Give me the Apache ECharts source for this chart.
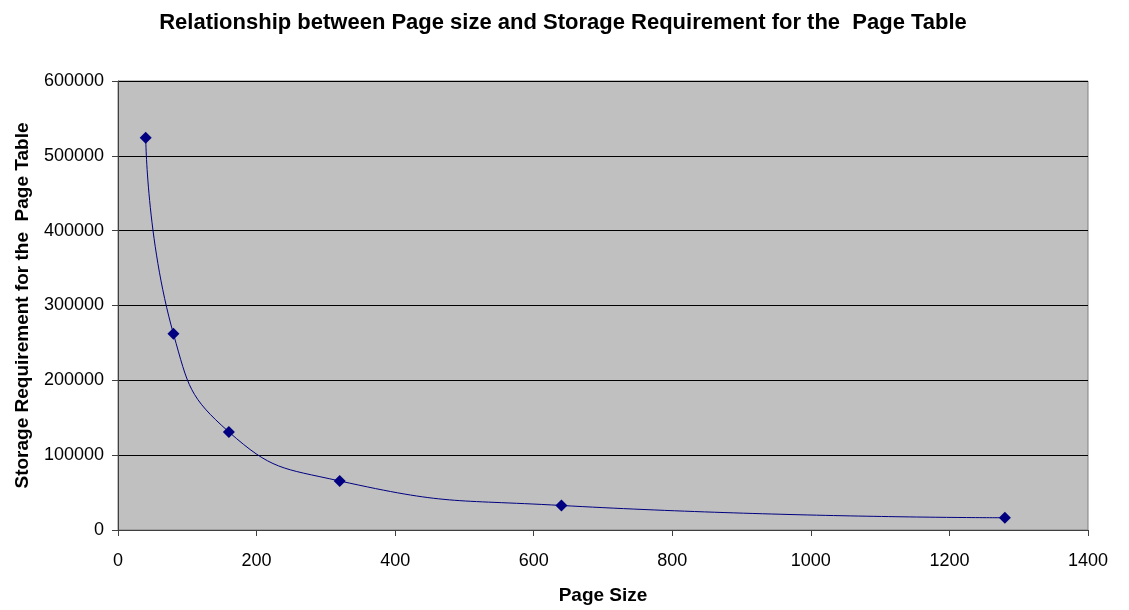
<!DOCTYPE html>
<html>
<head>
<meta charset="utf-8">
<script src="https://cdn.jsdelivr.net/npm/echarts@6/dist/echarts.min.js"></script>
<style>
  html, body { margin: 0; padding: 0; background: #fff; }
  #chart { width: 1129px; height: 610px; }
</style>
</head>
<body>
<div id="chart"></div>
<script>
// page sizes and the storage needed for the page table
var pageSizes = [40, 80, 160, 320, 640, 1280];
var storage = [524288, 262144, 131072, 65536, 32768, 16384];

var myChart = echarts.init(document.getElementById("chart"));
var fontName = "Liberation Sans, Arial";
// plain numbers, no thousands separators
var plain = function (v) { return String(v); };

var option = {
  animation: false,
  title: {
    text: "Relationship between Page size and Storage Requirement for the  Page Table",
    left: 558,
    textAlign: "center",
    top: 7,
    textStyle: { fontFamily: fontName, fontSize: 22, fontWeight: "bold", color: "#000" }
  },
  grid: {
    left: 118,
    right: 41,
    top: 81,
    bottom: 78,
    show: true,
    backgroundColor: "#c0c0c0",
    borderColor: "#808080",
    borderWidth: 1
  },
  xAxis: {
    type: "value",
    min: 0,
    max: 1400,
    interval: 200,
    name: "Page Size",
    nameLocation: "middle",
    nameGap: 56,
    nameTextStyle: { fontFamily: fontName, fontSize: 19, fontWeight: "bold", color: "#000" },
    axisLine: { show: true, lineStyle: { color: "#404040" } },
    axisTick: { show: true, length: 6, lineStyle: { color: "#404040" } },
    axisLabel: { margin: 22, fontFamily: fontName, fontSize: 18, color: "#000", formatter: plain },
    splitLine: { show: false }
  },
  yAxis: {
    type: "value",
    min: 0,
    max: 600000,
    interval: 100000,
    name: "Storage Requirement for the  Page Table",
    nameLocation: "middle",
    nameGap: 86,
    nameTextStyle: { fontFamily: fontName, fontSize: 19, fontWeight: "bold", color: "#000" },
    axisLine: { show: true, lineStyle: { color: "#404040" } },
    axisTick: { show: true, length: 6, lineStyle: { color: "#404040" } },
    axisLabel: { margin: 14, fontFamily: fontName, fontSize: 18, color: "#000", formatter: plain },
    splitLine: { show: true, lineStyle: { color: "#000", width: 1 } }
  },
  series: [
    {
      type: "line",
      data: pageSizes.map(function (x, i) { return [x, storage[i]]; }),
      smooth: 0.5,
      symbol: "diamond",
      symbolSize: 12,
      lineStyle: { color: "#000080", width: 1 },
      itemStyle: { color: "#000080" }
    }
  ]
};

myChart.setOption(option);
</script>
</body>
</html>
